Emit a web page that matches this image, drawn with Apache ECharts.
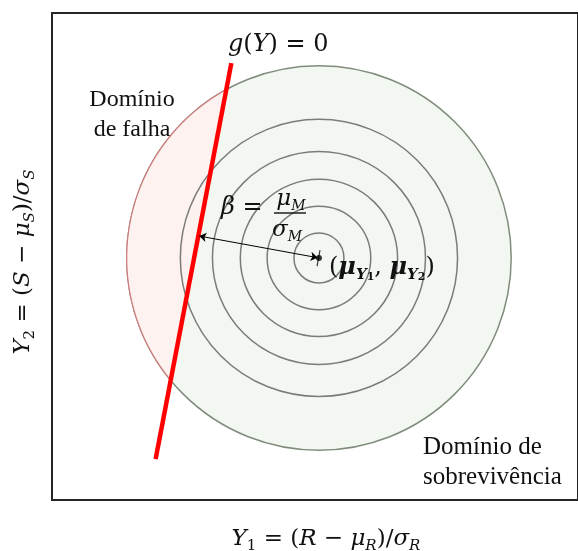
<!DOCTYPE html>
<html><head><meta charset="utf-8">
<script src="https://cdn.jsdelivr.net/npm/echarts@6/dist/echarts.min.js"></script>
<style>html,body{margin:0;padding:0;background:#fff}#c{width:578px;height:551px}</style>
</head><body><div id="c"></div>
<script>
// ---- data (standardized space units) ----
const xRange = [0, 20];
const yRange = [0, 18.45];
const center = [10.15, 9.17];                 // (mu_Y1, mu_Y2)
const ringRadii = [0.95, 1.97, 2.99, 4.05, 5.27];
const outerRadius = 7.31;
const limitStateLine = [[3.94, 1.55], [6.82, 16.55]];   // g(Y)=0
const betaArrow = [[5.6, 10.0], [10.1, 9.18]];
const centerTick = [[10.19, 9.47], [10.08, 8.86]];

const MATH = 'DejaVu Serif';
function mrich(size, subSize) {
  return {
    i: {fontFamily: MATH, fontStyle: 'italic', fontSize: size, lineHeight: size + 6, fill: '#111'},
    n: {fontFamily: MATH, fontSize: size, lineHeight: size + 6, fill: '#111'},
    s: {fontFamily: MATH, fontStyle: 'italic', fontSize: subSize, lineHeight: subSize, verticalAlign: 'bottom', fill: '#111'},
    u: {fontFamily: MATH, fontSize: subSize, lineHeight: subSize, verticalAlign: 'bottom', fill: '#111'}
  };
}

const chart = echarts.init(document.getElementById('c'));
const option = {
  animation: false,
  grid: {left: 52, top: 13, width: 528, height: 487, show: true, borderColor: '#262626', borderWidth: 2, backgroundColor: '#fff'},
  xAxis: {type: 'value', min: xRange[0], max: xRange[1], show: false},
  yAxis: {type: 'value', min: yRange[0], max: yRange[1], show: false},
  series: [
    {
      type: 'custom', coordinateSystem: 'cartesian2d', silent: true, z: 1,
      data: [[center[0], center[1], outerRadius]],
      renderItem: function (params, api) {
        const c = api.coord([api.value(0), api.value(1)]);
        const r = api.size([api.value(2), 0])[0];
        const a = api.coord(limitStateLine[0]), b = api.coord(limitStateLine[1]);
        const dx = b[0] - a[0], dy = b[1] - a[1];
        const fx = a[0] - c[0], fy = a[1] - c[1];
        const A = dx * dx + dy * dy, B = 2 * (fx * dx + fy * dy), C = fx * fx + fy * fy - r * r;
        const disc = Math.sqrt(Math.max(0, B * B - 4 * A * C));
        const t1 = (-B - disc) / (2 * A), t2 = (-B + disc) / (2 * A);
        const P1 = [a[0] + t1 * dx, a[1] + t1 * dy], P2 = [a[0] + t2 * dx, a[1] + t2 * dy];
        let th1 = Math.atan2(P1[1] - c[1], P1[0] - c[0]);
        let th2 = Math.atan2(P2[1] - c[1], P2[0] - c[0]);
        if (th2 < th1) th2 += Math.PI * 2;
        const pts = [];
        const N = 90;
        for (let k = 0; k <= N; k++) {
          const th = th1 + (th2 - th1) * k / N;
          pts.push([c[0] + r * Math.cos(th), c[1] + r * Math.sin(th)]);
        }
        return {type: 'group', children: [
          {type: 'circle', shape: {cx: c[0], cy: c[1], r: r}, style: {fill: '#f3f7f1', stroke: '#7f8c7c', lineWidth: 1.5}},
          {type: 'polygon', shape: {points: pts}, style: {fill: '#fdf2ef', stroke: null}},
          {type: 'polyline', shape: {points: pts}, style: {fill: null, stroke: '#cf7b7b', lineWidth: 1.2}}
        ]};
      }
    },
    {
      type: 'custom', coordinateSystem: 'cartesian2d', silent: true, z: 2,
      data: ringRadii.map(function (r) { return [center[0], center[1], r]; }),
      renderItem: function (params, api) {
        const c = api.coord([api.value(0), api.value(1)]);
        const r = api.size([api.value(2), 0])[0];
        return {type: 'circle', shape: {cx: c[0], cy: c[1], r: r}, style: {fill: 'none', stroke: '#7b7b7b', lineWidth: 1.5}};
      }
    },
    {
      type: 'line', data: limitStateLine, symbol: 'none', silent: true, z: 3,
      lineStyle: {color: '#ff0000', width: 4.5}
    },
    {
      type: 'lines', coordinateSystem: 'cartesian2d', silent: true, z: 4,
      symbol: ['arrow', 'arrow'], symbolSize: 7,
      lineStyle: {color: '#000', width: 1, opacity: 1, curveness: 0},
      data: [{coords: betaArrow}]
    },
    {
      type: 'line', data: centerTick, symbol: 'none', silent: true, z: 4,
      lineStyle: {color: '#333', width: 1.2}
    },
    {
      type: 'scatter', data: [center], symbolSize: 6, silent: true, z: 5,
      itemStyle: {color: '#000'}
    }
  ],
  graphic: [
    {type: 'text', x: 228, y: 45, z: 10, style: {
      text: '{i|g}{n|(}{i|Y}{n|) = 0}', textAlign: 'left', textVerticalAlign: 'middle', rich: mrich(24, 15)}},
    {type: 'text', x: 132, y: 85, z: 10, style: {
      text: 'Domínio\nde falha', font: '24px "Liberation Serif"', lineHeight: 30, fill: '#111', textAlign: 'center', textVerticalAlign: 'top'}},
    {type: 'text', x: 423, y: 432, z: 10, style: {
      text: 'Domínio de\nsobrevivência', font: '25px "Liberation Serif"', lineHeight: 30, fill: '#111', textAlign: 'left', textVerticalAlign: 'top'}},
    {type: 'text', x: 221, y: 208, z: 10, style: {
      text: '{i|β}{n| =}', textAlign: 'left', textVerticalAlign: 'middle', rich: mrich(24, 15)}},
    {type: 'text', x: 291, y: 199, z: 10, style: {
      text: '{i|μ}{s|M}', textAlign: 'center', textVerticalAlign: 'middle', rich: mrich(23, 14)}},
    {type: 'line', z: 10, shape: {x1: 274, y1: 213, x2: 306, y2: 213}, style: {stroke: '#111', lineWidth: 1.4}},
    {type: 'text', x: 287, y: 230, z: 10, style: {
      text: '{i|σ}{s|M}', textAlign: 'center', textVerticalAlign: 'middle', rich: mrich(23, 14)}},
    {type: 'text', x: 329, y: 268, z: 10, style: {
      text: '{p|(}{m|μ}{s|Y}{ss|1}{p|, }{m|μ}{s|Y}{ss|2}{p|)}', textAlign: 'left', textVerticalAlign: 'middle',
      rich: {
        p: {fontFamily: MATH, fontSize: 24, lineHeight: 30, fill: '#111'},
        m: {fontFamily: MATH, fontStyle: 'italic', fontWeight: 'bold', fontSize: 24, lineHeight: 30, fill: '#111'},
        s: {fontFamily: MATH, fontStyle: 'italic', fontWeight: 'bold', fontSize: 15, lineHeight: 17, verticalAlign: 'bottom', fill: '#111'},
        ss: {fontFamily: MATH, fontWeight: 'bold', fontSize: 11, lineHeight: 8, verticalAlign: 'bottom', fill: '#111'}
      }}},
    {type: 'text', x: 326, y: 539, z: 10, style: {
      text: '{i|Y}{u|1}{n| = (}{i|R}{n| − }{i|μ}{s|R}{n|)/}{i|σ}{s|R}', textAlign: 'center', textVerticalAlign: 'middle', rich: mrich(23, 15)}},
    {type: 'text', x: 23, y: 262, rotation: Math.PI / 2, z: 10, style: {
      text: '{i|Y}{u|2}{n| = (}{i|S}{n| − }{i|μ}{s|S}{n|)/}{i|σ}{s|S}', textAlign: 'center', textVerticalAlign: 'middle', rich: mrich(23, 15)}}
  ]
};
chart.setOption(option);
</script>
</body></html>
